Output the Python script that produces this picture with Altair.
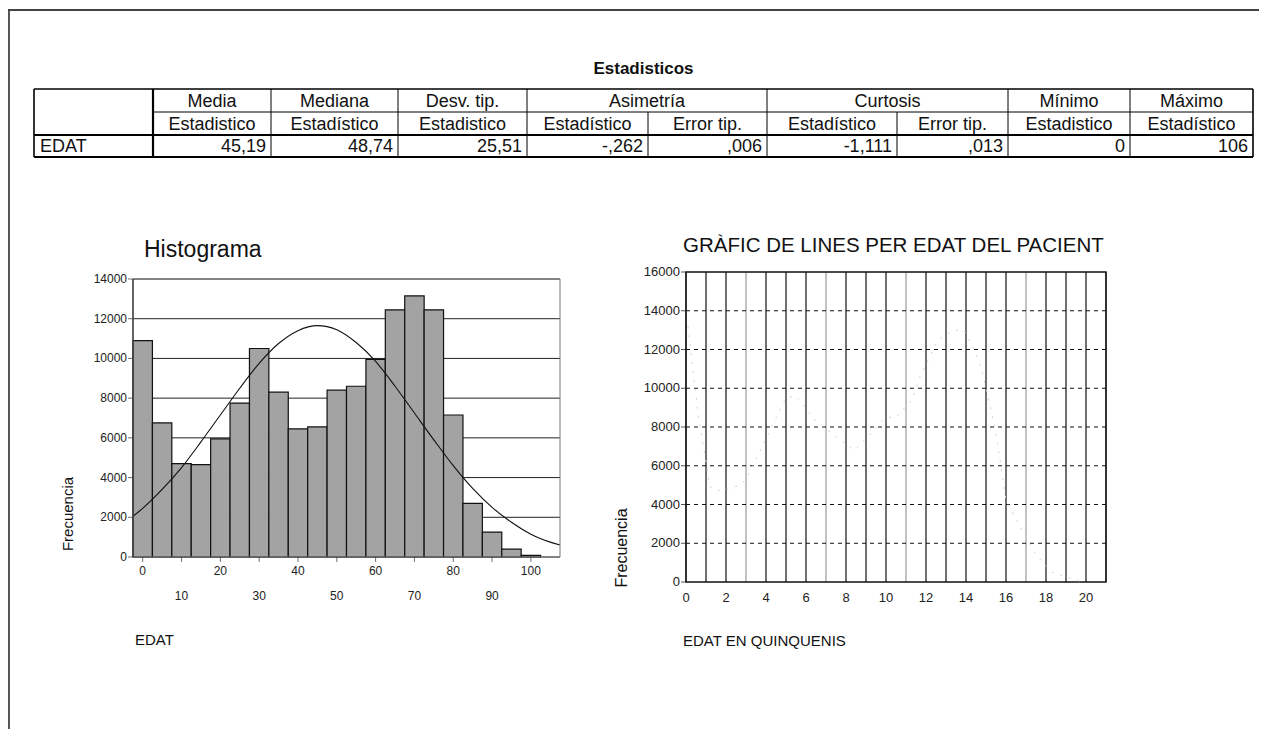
import altair as alt
import pandas as pd

# ------------------------------------------------------------------ data
table_title = "Estadisticos"
row_label = "EDAT"
group_headers = ["Media", "Mediana", "Desv. tip.", "Asimetría", "Curtosis", "Mínimo", "Máximo"]
group_spans = [1, 1, 1, 2, 2, 1, 1]
sub_headers = ["Estadistico", "Estadístico", "Estadistico", "Estadístico", "Error tip.",
               "Estadístico", "Error tip.", "Estadistico", "Estadístico"]
stat_values = ["45,19", "48,74", "25,51", "-,262", ",006", "-1,111", ",013", "0", "106"]

hist_title = "Histograma"
hist_x_title = "EDAT"
hist_y_title = "Frecuencia"
age_centers = [0, 5, 10, 15, 20, 25, 30, 35, 40, 45, 50, 55, 60, 65, 70, 75, 80, 85, 90, 95, 100]
age_counts = [10900, 6750, 4700, 4650, 5950, 7750, 10500, 8300, 6450, 6550, 8400,
              8600, 9950, 12450, 13150, 12450, 7150, 2700, 1250, 400, 80]
curve_x = [-2.5, 0, 5, 10, 15, 20, 25, 30, 35, 40, 45, 50, 55, 60, 65, 70, 75,
           80, 85, 90, 95, 100, 105, 107.5]
curve_y = [2050, 2450, 3400, 4500, 5800, 7150, 8500, 9750, 10750, 11400, 11650, 11450,
           10800, 9850, 8600, 7250, 5900, 4600, 3450, 2500, 1750, 1150, 750, 600]
hist_y_ticks = [0, 2000, 4000, 6000, 8000, 10000, 12000, 14000]
hist_x_ticks_top = [0, 20, 40, 60, 80, 100]
hist_x_ticks_bottom = [10, 30, 50, 70, 90]

line_title = "GRÀFIC DE LINES PER EDAT DEL PACIENT"
line_x_title = "EDAT EN QUINQUENIS"
line_y_title = "Frecuencia"
quin_x = [0.1, 0.6, 1.2, 1.6, 2.7, 3.0, 5.0, 5.5, 6.5, 8.4, 8.8, 10.0, 10.5, 11.3,
          11.7, 12.6, 13.4, 13.9, 14.5, 14.8, 15.5, 16.0, 16.9, 17.5, 18.3, 19.2, 19.8]
quin_freq = [13200, 8700, 4900, 4700, 5000, 5300, 9500, 9600, 8300, 6800, 7200, 8500,
             8500, 9400, 10600, 12500, 13000, 13000, 11800, 10900, 7700, 4200, 2500,
             1400, 500, 200, 0]
line_y_ticks = [0, 2000, 4000, 6000, 8000, 10000, 12000, 14000, 16000]
line_x_ticks = [0, 2, 4, 6, 8, 10, 12, 14, 16, 18, 20]
line_x_grid = [0, 1, 2, 3, 4, 5, 6, 7, 8, 9, 10, 11, 12, 13, 14, 15, 16, 17, 18, 19, 20, 21]
light_grid = [3, 7, 11, 17]

# ------------------------------------------------------------------ layout
W, H = 1251, 721
FONT = "Liberation Sans"
col_edges = [26, 145, 263, 390, 519, 640, 759, 889, 1000, 1122, 1245]
row_edges = [81, 104, 127, 149]

H_DOM = [-2.5, 107.5]
H_XR = [125, 552]
H_YR = [549, 271]
L_DOM = [0, 21]
L_XR = [678, 1098]
L_YR = [574, 264]

hxs = alt.Scale(domain=H_DOM, range=H_XR, nice=False, zero=False)
hys = alt.Scale(domain=[0, 14000], range=H_YR, nice=False, zero=False)
lxs = alt.Scale(domain=L_DOM, range=L_XR, nice=False, zero=False)
lys = alt.Scale(domain=[0, 16000], range=L_YR, nice=False, zero=False)


def pix(df):
    return alt.Chart(pd.DataFrame(df))


def text_layer(rows, align, size, weight="normal", angle=0, font=FONT):
    return pix(rows).mark_text(align=align, baseline="middle", font=font, fontSize=size,
                               fontWeight=weight, angle=angle, color="#111").encode(
        x=alt.X("x:Q", scale=None), y=alt.Y("y:Q", scale=None), text="t:N")


layers = []

# page frame
frame_df = [dict(x=0, y=2, x2=W, y2=2), dict(x=1, y=2, x2=1, y2=H)]
layers.append(pix(frame_df).mark_rule(color="#444", strokeWidth=1.8).encode(
    x=alt.X("x:Q", scale=None), y=alt.Y("y:Q", scale=None), x2="x2:Q", y2="y2:Q"))

# ------------------------------------------------------------------ table
L, R = col_edges[0], col_edges[-1]
T, M1, M2, B = row_edges
group_edges = [col_edges[1]]
gi = 1
for s in group_spans:
    gi += s
    group_edges.append(col_edges[gi])

segs = []


def seg(x1, y1, x2, y2, w):
    segs.append(dict(x=x1, y=y1, x2=x2, y2=y2, w=w))


seg(L, T, R, T, 1.6)
seg(col_edges[1], M1, R, M1, 1)
seg(L, M2, R, M2, 2.2)
seg(L, B, R, B, 2.2)
seg(L, T, L, B, 1.6)
seg(R, T, R, B, 1.6)
seg(col_edges[1], T, col_edges[1], B, 2.2)
for x in group_edges[1:-1]:
    seg(x, T, x, B, 1)
for x in col_edges[2:-1]:
    if x not in group_edges:
        seg(x, M1, x, B, 1)

layers.append(pix(segs).mark_rule(color="black").encode(
    x=alt.X("x:Q", scale=None), y=alt.Y("y:Q", scale=None), x2="x2:Q", y2="y2:Q",
    strokeWidth=alt.StrokeWidth("w:Q", scale=None, legend=None)))

center_rows = []
for k, g in enumerate(group_headers):
    center_rows.append(dict(x=(group_edges[k] + group_edges[k + 1]) / 2, y=(T + M1) / 2 + 1, t=g))
for i, s in enumerate(sub_headers):
    center_rows.append(dict(x=(col_edges[i + 1] + col_edges[i + 2]) / 2, y=(M1 + M2) / 2 + 1, t=s))
layers.append(text_layer(center_rows, "center", 18))

right_rows = [dict(x=col_edges[i + 2] - 5, y=(M2 + B) / 2 + 1, t=v) for i, v in enumerate(stat_values)]
layers.append(text_layer(right_rows, "right", 18))
layers.append(text_layer([dict(x=L + 6, y=(M2 + B) / 2 + 1, t=row_label)], "left", 18))
layers.append(text_layer([dict(x=(L + R) / 2, y=61, t=table_title)], "center", 17, "bold"))

# ------------------------------------------------------------------ histogram
hgrid = pd.DataFrame({"y": hist_y_ticks, "x0": H_DOM[0], "x1": H_DOM[1]})
layers.append(alt.Chart(hgrid).mark_rule(color="#222", strokeWidth=1).encode(
    x=alt.X("x0:Q", scale=hxs, axis=None), x2="x1:Q",
    y=alt.Y("y:Q", scale=hys, axis=None)))

bars = pd.DataFrame({"c": age_centers, "n": age_counts})
layers.append(alt.Chart(bars).transform_calculate(
    lo="datum.c - 2.5", hi="datum.c + 2.5", base="0").mark_rect(
    fill="#a3a3a3", stroke="#111", strokeWidth=1.2).encode(
    x=alt.X("lo:Q", scale=hxs, axis=None), x2="hi:Q",
    y=alt.Y("n:Q", scale=hys, axis=None), y2="base:Q"))

curve = pd.DataFrame({"x": curve_x, "y": curve_y})
layers.append(alt.Chart(curve).mark_line(color="#111", strokeWidth=1.1, interpolate="monotone").encode(
    x=alt.X("x:Q", scale=hxs, axis=None), y=alt.Y("y:Q", scale=hys, axis=None)))

hframe = pd.DataFrame([dict(x0=H_DOM[0], x1=H_DOM[1], y0=0, y1=14000)])
layers.append(alt.Chart(hframe).mark_rect(fillOpacity=0, stroke="#777", strokeWidth=1).encode(
    x=alt.X("x0:Q", scale=hxs, axis=None), x2="x1:Q",
    y=alt.Y("y0:Q", scale=hys, axis=None), y2="y1:Q"))
layers.append(alt.Chart(hframe).mark_rule(color="#333", strokeWidth=1.3).encode(
    x=alt.X("x0:Q", scale=hxs, axis=None),
    y=alt.Y("y0:Q", scale=hys, axis=None), y2="y1:Q"))

hyt = pd.DataFrame({"v": hist_y_ticks, "t": [str(v) for v in hist_y_ticks], "x0": H_DOM[0]})
layers.append(alt.Chart(hyt).mark_tick(orient="horizontal", size=5, thickness=1, xOffset=-2.5,
                                       color="#333").encode(
    x=alt.X("x0:Q", scale=hxs, axis=None), y=alt.Y("v:Q", scale=hys, axis=None)))
layers.append(alt.Chart(hyt).mark_text(align="right", baseline="middle", font=FONT, fontSize=12,
                                       color="#222").encode(
    x=alt.value(H_XR[0] - 6), y=alt.Y("v:Q", scale=hys, axis=None), text="t:N"))

hxt_all = pd.DataFrame({"v": sorted(hist_x_ticks_top + hist_x_ticks_bottom), "y0": 0})
layers.append(alt.Chart(hxt_all).mark_tick(orient="vertical", size=5, thickness=1, yOffset=2.5,
                                           color="#333").encode(
    x=alt.X("v:Q", scale=hxs, axis=None), y=alt.Y("y0:Q", scale=hys, axis=None)))
hxt1 = pd.DataFrame({"v": hist_x_ticks_top, "t": [str(v) for v in hist_x_ticks_top]})
layers.append(alt.Chart(hxt1).mark_text(align="center", baseline="middle", font=FONT, fontSize=12,
                                        color="#222").encode(
    x=alt.X("v:Q", scale=hxs, axis=None), y=alt.value(563), text="t:N"))
hxt2 = pd.DataFrame({"v": hist_x_ticks_bottom, "t": [str(v) for v in hist_x_ticks_bottom]})
layers.append(alt.Chart(hxt2).mark_text(align="center", baseline="middle", font=FONT, fontSize=12,
                                        color="#222").encode(
    x=alt.X("v:Q", scale=hxs, axis=None), y=alt.value(588), text="t:N"))

layers.append(text_layer([dict(x=136, y=242, t=hist_title)], "left", 23))
layers.append(text_layer([dict(x=60, y=506, t=hist_y_title)], "center", 15, angle=270))
layers.append(text_layer([dict(x=127, y=632, t=hist_x_title)], "left", 15))

# ------------------------------------------------------------------ line chart
vgrid = pd.DataFrame({"x": line_x_grid, "y0": 0, "y1": 16000,
                      "c": ["#9a9a9a" if g in light_grid else "#111" for g in line_x_grid]})
layers.append(alt.Chart(vgrid).mark_rule(strokeWidth=1.2).encode(
    x=alt.X("x:Q", scale=lxs, axis=None),
    y=alt.Y("y0:Q", scale=lys, axis=None), y2="y1:Q",
    color=alt.Color("c:N", scale=None, legend=None)))

hdash = pd.DataFrame({"y": line_y_ticks[1:-1], "x0": L_DOM[0], "x1": L_DOM[1]})
layers.append(alt.Chart(hdash).mark_rule(color="#111", strokeWidth=1.2, strokeDash=[4, 4]).encode(
    x=alt.X("x0:Q", scale=lxs, axis=None), x2="x1:Q",
    y=alt.Y("y:Q", scale=lys, axis=None)))

lframe = pd.DataFrame([dict(x0=L_DOM[0], x1=L_DOM[1], y0=0, y1=16000)])
layers.append(alt.Chart(lframe).mark_rect(fillOpacity=0, stroke="#111", strokeWidth=1.3).encode(
    x=alt.X("x0:Q", scale=lxs, axis=None), x2="x1:Q",
    y=alt.Y("y0:Q", scale=lys, axis=None), y2="y1:Q"))

qline = pd.DataFrame({"x": quin_x, "y": quin_freq})
layers.append(alt.Chart(qline).mark_line(color="#d0d0d0", strokeWidth=1, strokeDash=[2, 7]).encode(
    x=alt.X("x:Q", scale=lxs, axis=None), y=alt.Y("y:Q", scale=lys, axis=None)))

lyt = pd.DataFrame({"v": line_y_ticks, "t": [str(v) for v in line_y_ticks], "x0": L_DOM[0]})
layers.append(alt.Chart(lyt).mark_tick(orient="horizontal", size=5, thickness=1, xOffset=-2.5,
                                       color="#111").encode(
    x=alt.X("x0:Q", scale=lxs, axis=None), y=alt.Y("v:Q", scale=lys, axis=None)))
layers.append(alt.Chart(lyt).mark_text(align="right", baseline="middle", font=FONT, fontSize=13,
                                       color="#222").encode(
    x=alt.value(L_XR[0] - 6), y=alt.Y("v:Q", scale=lys, axis=None), text="t:N"))

lxt = pd.DataFrame({"v": line_x_ticks, "t": [str(v) for v in line_x_ticks]})
layers.append(alt.Chart(lxt).mark_text(align="center", baseline="middle", font=FONT, fontSize=13,
                                       color="#222").encode(
    x=alt.X("v:Q", scale=lxs, axis=None), y=alt.value(590), text="t:N"))

layers.append(text_layer([dict(x=675, y=238, t=line_title)], "left", 20.5))
layers.append(text_layer([dict(x=614, y=540, t=line_y_title)], "center", 16, angle=270))
layers.append(text_layer([dict(x=675, y=633, t=line_x_title)], "left", 15))

chart = alt.layer(*layers).resolve_scale(
    x="independent", y="independent"
).properties(
    width=W, height=H, padding=0, background="white",
    autosize=alt.AutoSizeParams(type="none"),
).configure_view(strokeWidth=0)

chart.save("out.html", embed_options={"renderer": "svg", "actions": False})
